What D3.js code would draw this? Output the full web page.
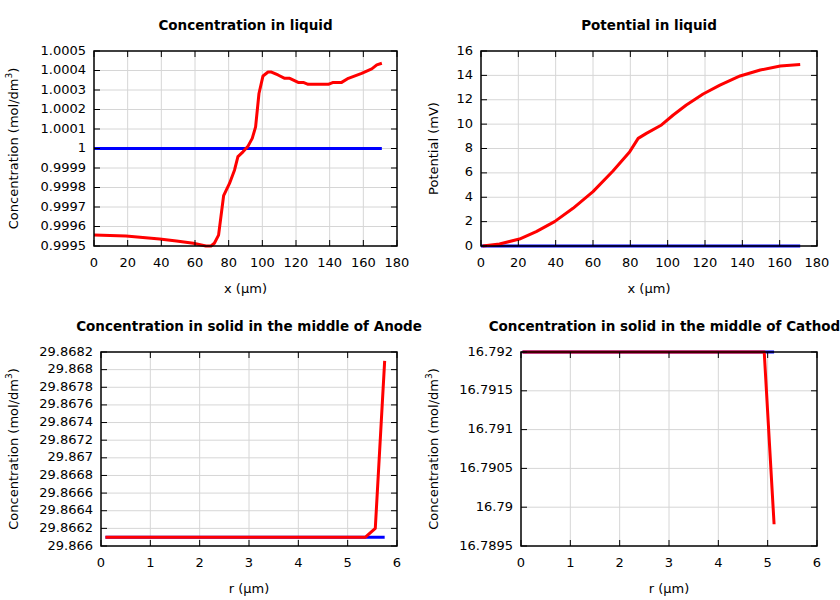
<!DOCTYPE html>
<html>
<head>
<meta charset="utf-8">
<script src="https://cdn.jsdelivr.net/npm/d3@7/dist/d3.min.js"></script>
<style>
  body { margin: 0; background: #fff; }
  svg text { font-family: 'DejaVu Sans', sans-serif; fill: #000; }
  .grid line { stroke: #d6d6d6; stroke-width: 1; }
  .frame { fill: none; stroke: #000; stroke-width: 1.5; }
  .tick-mark { stroke: #000; stroke-width: 1; }
</style>
</head>
<body>
<svg id="chart" width="840" height="600"></svg>
<script>
(function () {
  'use strict';

  // ---- data ----
  // Concentration in liquid (mol/dm3) vs x (um)
  const liqX    = [0, 19, 39, 49, 59, 66.5, 69.5, 71.5, 74, 77, 80.5, 83.5, 85.5, 88.5, 91.5, 94, 96, 98, 100.4, 103.4, 105.4, 109.3, 113.3, 116.3, 121.3, 124.3, 127.2, 139.2, 142.1, 147.1, 151.1, 159, 165, 168, 171];
  const liqConc = [0.999556, 0.999551, 0.999536, 0.999526, 0.999514, 0.999500, 0.999500, 0.999514, 0.999556, 0.999758, 0.999821, 0.999890, 0.999958, 0.999983, 1.000012, 1.000052, 1.000111, 1.000282, 1.000372, 1.000392, 1.000392, 1.000377, 1.000360, 1.000360, 1.000339, 1.000339, 1.000329, 1.000329, 1.000339, 1.000339, 1.000360, 1.000385, 1.000408, 1.000429, 1.000437];
  const liqInitX    = [0, 171];
  const liqInitConc = [1, 1];

  // Potential in liquid (mV) vs x (um)
  const potX = [0.9, 9.9, 20.6, 29.6, 39.4, 49.3, 60, 70.7, 79.7, 84.2, 88.6, 96.7, 103, 110, 119, 128, 138.8, 149.6, 160.3, 171];
  const potV = [0, 0.16, 0.57, 1.18, 2.0, 3.09, 4.46, 6.15, 7.74, 8.83, 9.24, 9.93, 10.75, 11.57, 12.47, 13.2, 13.95, 14.44, 14.77, 14.9];
  const potInitX = [0, 171];
  const potInitV = [0, 0];

  // Concentration in solid, middle of anode, vs r (um)
  const anodeR     = [0.09, 5.36, 5.56, 5.75];
  const anodeConc  = [29.8661, 29.8661, 29.8662, 29.8681];
  const anodeInitR    = [0.09, 5.75];
  const anodeInitConc = [29.8661, 29.8661];

  // Concentration in solid, middle of cathode, vs r (um)
  const cathR     = [0.03, 4.93, 5.13];
  const cathConc  = [16.792, 16.792, 16.78978];
  const cathInitR    = [0.03, 5.13];
  const cathInitConc = [16.792, 16.792];

  // tick values
  const liqXTicks   = d3.range(0, 181, 20);
  const liqYTicks   = [0.9995, 0.9996, 0.9997, 0.9998, 0.9999, 1, 1.0001, 1.0002, 1.0003, 1.0004, 1.0005];
  const potYTicks   = d3.range(0, 17, 2);
  const rTicks      = d3.range(0, 7, 1);
  const anodeYTicks = [29.866, 29.8662, 29.8664, 29.8666, 29.8668, 29.867, 29.8672, 29.8674, 29.8676, 29.8678, 29.868, 29.8682];
  const cathYTicks  = [16.7895, 16.79, 16.7905, 16.791, 16.7915, 16.792];

  const RED  = '#ff0000';
  const BLUE = '#0000ff';
  const CONC_LABEL = 'conc';

  const panels = [
    { title: 'Concentration in liquid', box: [94, 51, 397, 246], xDom: [0, 180], yDom: [0.9995, 1.0005],
      xTicks: liqXTicks, yTicks: liqYTicks, xLabel: 'x (µm)', yLabel: CONC_LABEL, yLabelX: 14,
      series: [{ x: liqInitX, y: liqInitConc, c: BLUE }, { x: liqX, y: liqConc, c: RED }] },
    { title: 'Potential in liquid', box: [481, 51, 817, 246], xDom: [0, 180], yDom: [0, 16],
      xTicks: liqXTicks, yTicks: potYTicks, xLabel: 'x (µm)', yLabel: 'Potential (mV)', yLabelX: 434,
      series: [{ x: potInitX, y: potInitV, c: BLUE }, { x: potX, y: potV, c: RED }] },
    { title: 'Concentration in solid in the middle of Anode', box: [101, 352, 397, 546], xDom: [0, 6], yDom: [29.866, 29.8682],
      xTicks: rTicks, yTicks: anodeYTicks, xLabel: 'r (µm)', yLabel: CONC_LABEL, yLabelX: 14,
      series: [{ x: anodeInitR, y: anodeInitConc, c: BLUE }, { x: anodeR, y: anodeConc, c: RED }] },
    { title: 'Concentration in solid in the middle of Cathode', box: [521, 352, 817, 546], xDom: [0, 6], yDom: [16.7895, 16.792],
      xTicks: rTicks, yTicks: cathYTicks, xLabel: 'r (µm)', yLabel: CONC_LABEL, yLabelX: 434,
      series: [{ x: cathInitR, y: cathInitConc, c: BLUE }, { x: cathR, y: cathConc, c: RED }] },
  ];

  const svg = d3.select('#chart');
  const fmt = v => String(+v.toFixed(6));

  panels.forEach(p => {
    const [x0, y0, x1, y1] = p.box;
    const x = d3.scaleLinear().domain(p.xDom).range([x0, x1]);
    const y = d3.scaleLinear().domain(p.yDom).range([y1, y0]);
    const g = svg.append('g');

    // grid
    const grid = g.append('g').attr('class', 'grid');
    grid.selectAll('.gx').data(p.xTicks.slice(1, -1)).join('line')
      .attr('x1', d => x(d)).attr('x2', d => x(d)).attr('y1', y0).attr('y2', y1);
    grid.selectAll('.gy').data(p.yTicks.slice(1, -1)).join('line')
      .attr('x1', x0).attr('x2', x1).attr('y1', d => y(d)).attr('y2', d => y(d));

    // curves
    const line = d3.line().x(d => x(d[0])).y(d => y(d[1]));
    p.series.forEach(s => {
      g.append('path')
        .datum(d3.zip(s.x, s.y))
        .attr('d', line)
        .attr('fill', 'none')
        .attr('stroke', s.c)
        .attr('stroke-width', 3)
        .attr('stroke-linejoin', 'round');
    });

    // frame + inward mirrored ticks
    g.append('rect').attr('class', 'frame')
      .attr('x', x0).attr('y', y0).attr('width', x1 - x0).attr('height', y1 - y0);
    const TL = 6;
    p.xTicks.forEach(t => {
      g.append('line').attr('class', 'tick-mark').attr('x1', x(t)).attr('x2', x(t)).attr('y1', y1).attr('y2', y1 - TL);
      g.append('line').attr('class', 'tick-mark').attr('x1', x(t)).attr('x2', x(t)).attr('y1', y0).attr('y2', y0 + TL);
    });
    p.yTicks.forEach(t => {
      g.append('line').attr('class', 'tick-mark').attr('x1', x0).attr('x2', x0 + TL).attr('y1', y(t)).attr('y2', y(t));
      g.append('line').attr('class', 'tick-mark').attr('x1', x1).attr('x2', x1 - TL).attr('y1', y(t)).attr('y2', y(t));
    });

    // tick labels
    g.selectAll('.xl').data(p.xTicks).join('text')
      .attr('x', d => x(d)).attr('y', y1 + 17)
      .attr('text-anchor', 'middle').attr('dominant-baseline', 'middle')
      .attr('font-size', 13).text(fmt);
    g.selectAll('.yl').data(p.yTicks).join('text')
      .attr('x', x0 - 8).attr('y', d => y(d))
      .attr('text-anchor', 'end').attr('dominant-baseline', 'middle')
      .attr('font-size', 13).text(fmt);

    // title (the cathode one runs off the right edge, as in the original)
    g.append('text')
      .attr('x', (x0 + x1) / 2).attr('y', y0 - 25)
      .attr('text-anchor', 'middle').attr('dominant-baseline', 'middle')
      .attr('font-size', 13.5).attr('font-weight', 'bold')
      .text(p.title);

    // x label
    g.append('text')
      .attr('x', (x0 + x1) / 2).attr('y', y1 + 43)
      .attr('text-anchor', 'middle').attr('dominant-baseline', 'middle')
      .attr('font-size', 13).text(p.xLabel);

    // y label
    const yl = g.append('text')
      .attr('transform', `translate(${p.yLabelX},${(y0 + y1) / 2}) rotate(-90)`)
      .attr('text-anchor', 'middle').attr('dominant-baseline', 'middle')
      .attr('font-size', 13);
    if (p.yLabel === CONC_LABEL) {
      yl.append('tspan').text('Concentration (mol/dm');
      yl.append('tspan').attr('font-size', 9).attr('dy', -5).text('3');
      yl.append('tspan').attr('dy', 5).text(')');
    } else {
      yl.text(p.yLabel);
    }
  });
})();
</script>
</body>
</html>
